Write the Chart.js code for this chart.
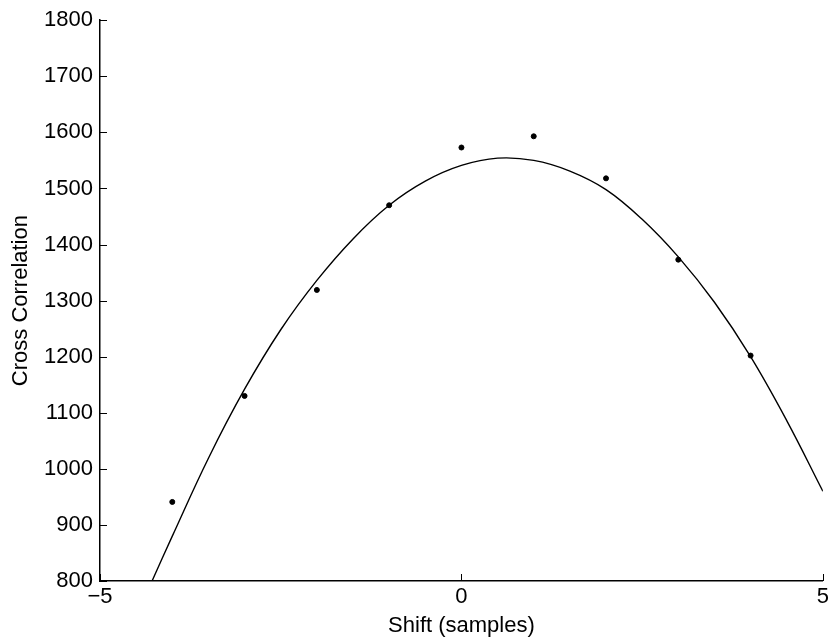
<!DOCTYPE html>
<html>
<head>
<meta charset="utf-8">
<script src="https://cdn.jsdelivr.net/npm/chart.js@4"></script>
<style>
  body { margin: 0; background: #fff; }
  #wrap { width: 832px; height: 639px; }
</style>
</head>
<body>
<div id="wrap"><canvas id="xcorr"></canvas></div>
<script>
// measured cross correlation at each shift
var shifts = [-4, -3, -2, -1, 0, 1, 2, 3, 4];
var xcorr = [941, 1130, 1319, 1470, 1573, 1593, 1518, 1373, 1202];

// fitted curve
var fitX = [-4.28, -4, -3.5, -3, -2.5, -2, -1.5, -1, -0.5, 0, 0.5, 1, 1.5, 2, 2.5, 3, 3.5, 4, 4.5, 5];
var fitY = [800, 880, 1019, 1142, 1248, 1336, 1410, 1470, 1513, 1541, 1554, 1550, 1531, 1498, 1445, 1378, 1297, 1200, 1086, 960];

var xTicks = [-5, 0, 5];
var yTicks = [800, 900, 1000, 1100, 1200, 1300, 1400, 1500, 1600, 1700, 1800];

var font = { family: "'Liberation Sans', Arial, sans-serif", size: 22 };

// MATLAB style ticks pointing into the plot
var innerTicks = {
  id: 'innerTicks',
  afterDraw: function (chart) {
    var ctx = chart.ctx, a = chart.chartArea;
    var xs = chart.scales.x, ys = chart.scales.y;
    ctx.save();
    ctx.strokeStyle = '#000';
    ctx.lineWidth = 1;
    ctx.beginPath();
    xTicks.forEach(function (v) {
      var px = Math.round(xs.getPixelForValue(v)) + 0.5;
      ctx.moveTo(px, a.bottom);
      ctx.lineTo(px, a.bottom - 7);
    });
    yTicks.forEach(function (v) {
      var py = Math.round(ys.getPixelForValue(v)) + 0.5;
      ctx.moveTo(a.left, py);
      ctx.lineTo(a.left + 7, py);
    });
    ctx.stroke();
    ctx.restore();
  }
};

new Chart(document.getElementById('xcorr'), {
  type: 'scatter',
  data: {
    datasets: [{
      label: 'data',
      data: shifts.map(function (s, i) { return { x: s, y: xcorr[i] }; }),
      backgroundColor: '#000',
      borderColor: '#000',
      pointRadius: 2.5,
      showLine: false
    }, {
      label: 'fit',
      data: fitX.map(function (s, i) { return { x: s, y: fitY[i] }; }),
      borderColor: '#000',
      borderWidth: 1.4,
      pointRadius: 0,
      showLine: true,
      tension: 0.4
    }]
  },
  options: {
    responsive: true,
    maintainAspectRatio: false,
    animation: false,
    layout: { padding: { top: 15, right: 3, left: 0, bottom: 0 } },
    plugins: { legend: { display: false }, tooltip: { enabled: false } },
    scales: {
      x: {
        type: 'linear',
        min: -5, max: 5,
        afterBuildTicks: function (s) { s.ticks = xTicks.map(function (v) { return { value: v }; }); },
        afterFit: function (s) { s.height = 58; },
        grid: { display: true, drawOnChartArea: false, drawTicks: false, color: '#000' },
        border: { color: '#000', width: 1.5 },
        ticks: {
          color: '#000', font: font, padding: 3, maxRotation: 0,
          callback: function (v) { return v < 0 ? '\u2212' + Math.abs(v) : String(v); }
        },
        title: { display: true, text: 'Shift (samples)', color: '#000', font: font, padding: { top: 0, bottom: 0 } }
      },
      y: {
        min: 800, max: 1800,
        afterBuildTicks: function (s) { s.ticks = yTicks.map(function (v) { return { value: v }; }); },
        afterFit: function (s) { s.width = 100; },
        grid: { display: true, drawOnChartArea: false, drawTicks: false, color: '#000' },
        border: { color: '#000', width: 1.5 },
        ticks: { color: '#000', font: font, padding: 7, callback: function (v) { return String(v); } },
        title: { display: true, text: 'Cross Correlation', color: '#000', font: font, padding: { top: 8, bottom: 0 } }
      }
    }
  },
  plugins: [innerTicks]
});
</script>
</body>
</html>
